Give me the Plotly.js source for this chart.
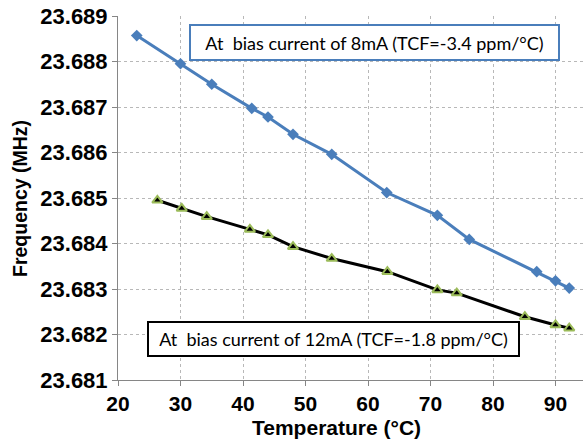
<!DOCTYPE html>
<html>
<head>
<meta charset="utf-8">
<script src="https://cdn.plot.ly/plotly-3.0.1.min.js"></script>
<style>html,body{margin:0;padding:0;background:#fff;}#chart{width:583px;height:441px;}</style>
</head>
<body>
<div id="chart"></div>
<script>
// Series at 8 mA bias current
const temp8mA = [23, 30, 35, 41.4, 44, 48, 54.2, 63, 71.1, 76.2, 87, 90, 92.2];
const freq8mA = [23.68857, 23.68795, 23.68750, 23.68697, 23.68678, 23.68640, 23.68596, 23.68512, 23.68462, 23.68409, 23.68338, 23.68318, 23.68302];
// Series at 12 mA bias current
const temp12mA = [26.3, 30.2, 34.2, 41.1, 44, 48, 54.2, 63.1, 71.1, 74.2, 85.1, 90, 92.2];
const freq12mA = [23.68495, 23.68477, 23.68459, 23.68431, 23.68419, 23.68393, 23.68367, 23.68338, 23.68298, 23.68291, 23.68239, 23.68221, 23.68214];
// Axis ticks
const xTicks = [20, 30, 40, 50, 60, 70, 80, 90];
const yTicks = [23.681, 23.682, 23.683, 23.684, 23.685, 23.686, 23.687, 23.688, 23.689];
const yTickLabels = ["23.681", "23.682", "23.683", "23.684", "23.685", "23.686", "23.687", "23.688", "23.689"];
// Texts
const label8mA = "At  bias current of 8mA (TCF=-3.4 ppm/°C)";
const label12mA = "At  bias current of 12mA (TCF=-1.8 ppm/°C)";
const xTitle = "Temperature (°C)";
const yTitle = "Frequency (MHz)";

const blue = "#4A7EBB";
const yTickFont = {family: "Liberation Sans, Arial, sans-serif", size: 22, color: "#000", weight: "bold"};
const xTickFont = {family: "Liberation Sans, Arial, sans-serif", size: 21, color: "#000", weight: "bold"};
const xTitleFont = {family: "Liberation Sans, Arial, sans-serif", size: 21, color: "#000", weight: "bold"};
const yTitleFont = {family: "Liberation Sans, Arial, sans-serif", size: 19.5, color: "#000", weight: "bold"};
const boxFont = {family: "Lato, sans-serif", size: 18, color: "#000"};

const traces = [
  {x: temp8mA, y: freq8mA, type: "scatter", mode: "lines+markers",
   line: {color: blue, width: 3},
   marker: {symbol: "diamond", size: 9, color: blue}},
  {x: temp12mA, y: freq12mA, type: "scatter", mode: "lines+markers",
   line: {color: "#000", width: 3},
   marker: {symbol: "triangle-up", size: 9, color: "#000", line: {color: "#9BBB59", width: 2}}}
];

const layout = {
  width: 583, height: 441,
  margin: {l: 118, r: 0, t: 16, b: 61, autoexpand: false},
  paper_bgcolor: "#fff", plot_bgcolor: "#fff",
  showlegend: false,
  xaxis: {
    range: [20, 94.4], tickvals: xTicks, ticktext: xTicks.map(String),
    automargin: false,
    showgrid: true, gridcolor: "#b8b8b8", griddash: "dot", gridwidth: 1,
    showline: true, linecolor: "#868686", linewidth: 1,
    ticks: "outside", ticklen: 5, tickcolor: "#868686",
    tickfont: xTickFont, zeroline: false
  },
  yaxis: {
    range: [23.681, 23.689], tickvals: yTicks, ticktext: yTickLabels,
    automargin: false,
    showgrid: true, gridcolor: "#b8b8b8", griddash: "dot", gridwidth: 1,
    showline: true, linecolor: "#868686", linewidth: 1,
    ticks: "outside", ticklen: 5, tickcolor: "#868686",
    tickfont: yTickFont, zeroline: false
  },
  annotations: [
    {text: label8mA, xref: "paper", yref: "paper", x: 0.5516, y: 0.9264,
     xanchor: "center", yanchor: "middle", showarrow: false,
     font: boxFont, bgcolor: "#fff", bordercolor: blue, borderwidth: 2,
     borderpad: 2, width: 363, height: 29},
    {text: label12mA, xref: "paper", yref: "paper", x: 0.4634, y: 0.1125,
     xanchor: "center", yanchor: "middle", showarrow: false,
     font: boxFont, bgcolor: "#fff", bordercolor: "#000", borderwidth: 2,
     borderpad: 2, width: 365, height: 28},
    {text: xTitle, xref: "paper", yref: "paper", x: 0.47, y: -0.131,
     xanchor: "center", yanchor: "middle", showarrow: false, font: xTitleFont},
    {text: yTitle, xref: "paper", yref: "paper", x: -0.2108, y: 0.5,
     xanchor: "center", yanchor: "middle", showarrow: false, textangle: -90, font: yTitleFont}
  ]
};

Plotly.newPlot("chart", traces, layout, {displayModeBar: false, staticPlot: true});
</script>
</body>
</html>
